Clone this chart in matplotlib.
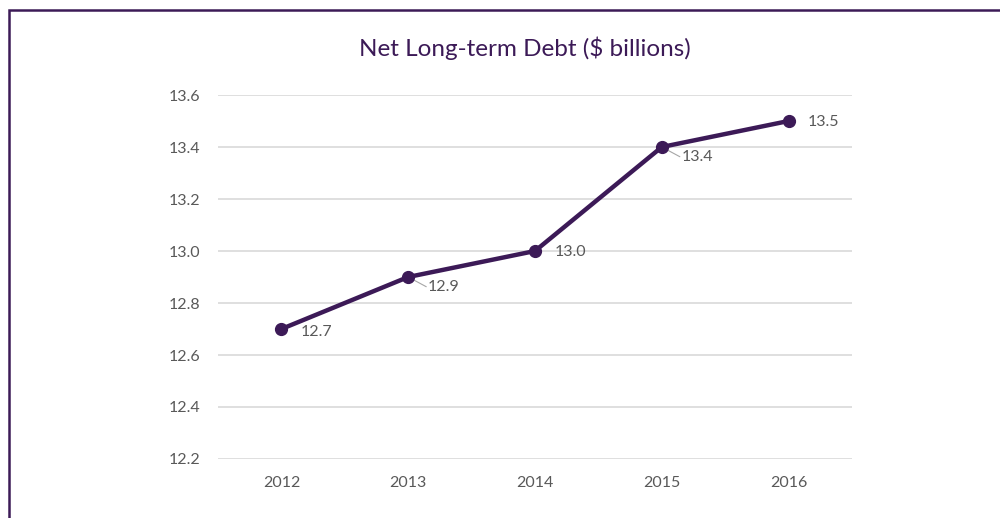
import matplotlib
matplotlib.use("Agg")
import matplotlib.pyplot as plt
from matplotlib.patches import Rectangle

years = ["2012", "2013", "2014", "2015", "2016"]
debt = [12.7, 12.9, 13.0, 13.4, 13.5]
yticks = [12.2, 12.4, 12.6, 12.8, 13.0, 13.2, 13.4, 13.6]
# label offsets in points (dx, dy) relative to each marker
label_offsets = [(14, -2), (14, -7), (14, -1), (14, -7), (14, -1)]
leader = [False, True, False, True, False]

plt.rcParams['font.family'] = ['Lato', 'DejaVu Sans']

purple = "#3c1a57"
grey_text = "#595959"

fig = plt.figure(figsize=(10, 5.18), dpi=100)
fig.patch.set_facecolor("white")

# chart frame
fig.add_artist(Rectangle((0.009, -0.05), 1.2, 1.0307,
                         transform=fig.transFigure, fill=False,
                         edgecolor=purple, linewidth=1.8))

ax = fig.add_axes([0.218, 0.1139, 0.634, 0.7027])
x = list(range(len(years)))
ax.plot(x, debt, color=purple, linewidth=3.2, marker="o", markersize=8.5,
        solid_capstyle="round", zorder=3)

ax.set_xlim(-0.5, len(years) - 0.5)
ax.set_ylim(yticks[0], yticks[-1])
ax.set_yticks(yticks)
ax.set_yticklabels([f"{v:.1f}" for v in yticks])
ax.set_xticks(x)
ax.set_xticklabels(years)
ax.grid(axis="y", color="#d9d9d9", linewidth=1.2)
ax.set_axisbelow(True)
for s in ax.spines.values():
    s.set_visible(False)
ax.tick_params(length=0, colors=grey_text, labelsize=11.5)
ax.tick_params(axis="y", pad=13)
ax.tick_params(axis="x", pad=12)

for xi, v, (dx, dy), ld in zip(x, debt, label_offsets, leader):
    ax.annotate(f"{v:.1f}", (xi, v), xytext=(dx, dy), textcoords="offset points",
                ha="left", va="center", fontsize=11.5, color=grey_text, zorder=4)
    if ld:
        ax.annotate("", (xi, v), xytext=(dx - 1, dy), textcoords="offset points",
                    arrowprops=dict(arrowstyle="-", color="#a6a6a6", lw=0.8,
                                    shrinkA=0, shrinkB=2), zorder=2)

fig.text(0.525, 0.906, "Net Long-term Debt ($ billions)", ha="center", va="center",
         fontsize=17.5, color=purple)

fig.savefig("out.png", dpi=100, facecolor="white")
